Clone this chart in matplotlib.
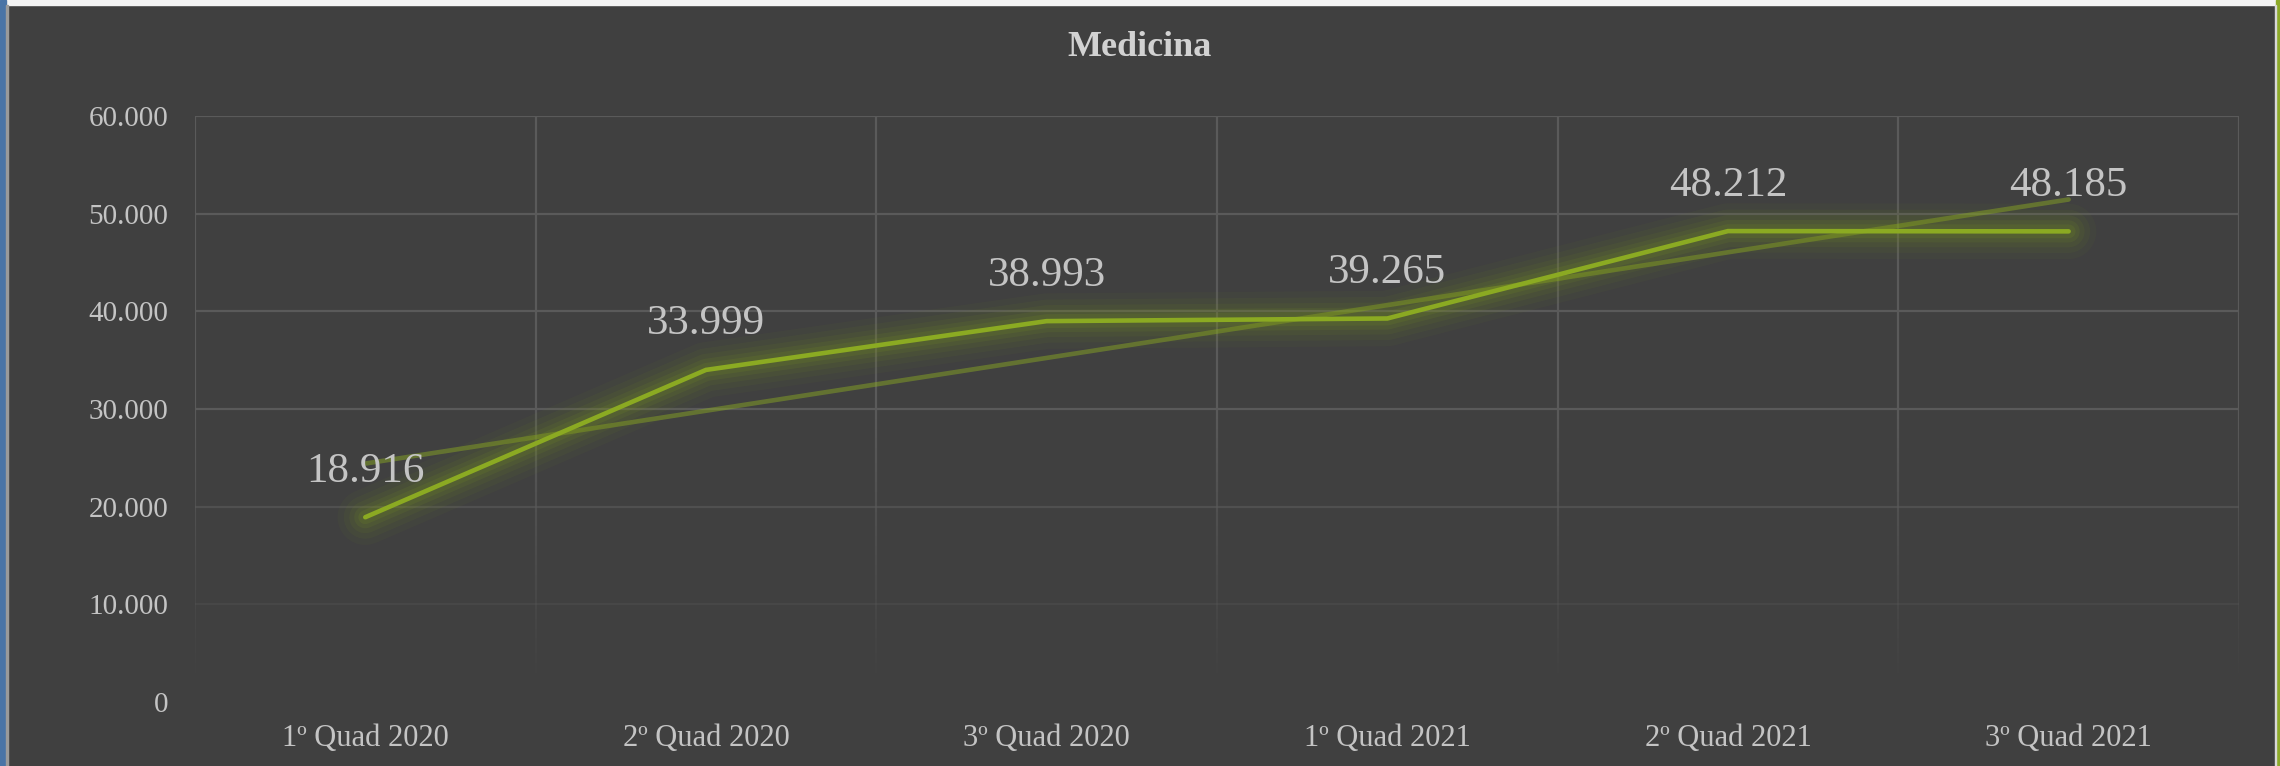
import numpy as np
import matplotlib
matplotlib.use("Agg")
import matplotlib.pyplot as plt
from matplotlib.patches import Rectangle
from matplotlib.ticker import FuncFormatter

categories = ["1º Quad 2020", "2º Quad 2020", "3º Quad 2020",
              "1º Quad 2021", "2º Quad 2021", "3º Quad 2021"]
values = [18916, 33999, 38993, 39265, 48212, 48185]
y_ticks = [0, 10000, 20000, 30000, 40000, 50000, 60000]
title = "Medicina"

BG = "#404040"
LINE = "#8BAA22"
GLOW = "#7A9420"
GRID = "#5A5A5A"
TXT = "#C4C4C4"
FONT = "Liberation Serif"

plt.rcParams["font.family"] = [FONT, "DejaVu Serif"]

fig = plt.figure(figsize=(22.8, 7.66), dpi=100, facecolor=BG)
ax = fig.add_axes([0.0855, 0.0836, 0.982 - 0.0855, 0.8486 - 0.0836])
ax.set_facecolor(BG)

x = np.arange(len(categories))
ax.set_xlim(-0.5, len(categories) - 0.5)
ax.set_ylim(0, 60000)

def fade(v):
    return float(np.clip((v - 2000) / 28000, 0, 1))

for yt in y_ticks[1:]:
    a = fade(yt)
    if a > 0:
        ax.axhline(yt, color=GRID, lw=1.6, alpha=a, zorder=1)
ys = np.linspace(0, 60000, 121)
for xb in np.arange(-0.5, len(categories), 1.0):
    for i in range(len(ys) - 1):
        ymid = 0.5 * (ys[i] + ys[i + 1])
        a = fade(ymid)
        if a > 0:
            ax.plot([xb, xb], [ys[i], ys[i + 1]], color=GRID, lw=1.6,
                    alpha=a, solid_capstyle="butt", zorder=1)

for s in ax.spines.values():
    s.set_visible(False)

# trendline (linear fit)
coef = np.polyfit(x, values, 1)
trend = np.polyval(coef, x)
ax.plot(x, trend, color=LINE, lw=3.3, alpha=0.48, solid_capstyle="round", zorder=2)

# glow
for lw, a in [(40, 0.05), (31, 0.07), (23, 0.09), (16, 0.12), (10, 0.15)]:
    ax.plot(x, values, color=GLOW, lw=lw, alpha=a, solid_capstyle="round",
            solid_joinstyle="round", zorder=3)
ax.plot(x, values, color=LINE, lw=3.3, solid_capstyle="round",
        solid_joinstyle="miter", zorder=4)

for xi, v in zip(x, values):
    ax.annotate(f"{v:,}".replace(",", "."), (xi, v), xytext=(0, 33),
                textcoords="offset points", ha="center", va="center",
                fontsize=31, color=TXT, family=FONT, zorder=5)

ax.set_xticks(x)
ax.set_xticklabels(categories, fontsize=22, color=TXT, family=FONT)
ax.set_yticks(y_ticks)
ax.yaxis.set_major_formatter(FuncFormatter(lambda v, p: f"{int(v):,}".replace(",", ".")))
ax.tick_params(axis="y", length=0, pad=19, labelsize=21, labelcolor=TXT)
ax.tick_params(axis="x", length=0, pad=16, labelsize=22, labelcolor=TXT)

fig.text(0.5, 1 - 47 / 766, title, ha="center", va="center", fontsize=26,
         fontweight="bold", color="#D2D2D2", family=FONT)

# screenshot frame edges
W, H = 2280, 766
fig.patches.append(Rectangle((0, 1 - 5 / H), 1, 5 / H, transform=fig.transFigure,
                             color="#F4F4F4", zorder=10))
fig.patches.append(Rectangle((0, 0), 6 / W, 1, transform=fig.transFigure,
                             color="#4A74A6", zorder=11))
fig.patches.append(Rectangle((6 / W, 0), 1.5 / W, 1 - 5 / H, transform=fig.transFigure,
                             color="#9A9A9A", zorder=11))
fig.patches.append(Rectangle((1 - 4 / W, 0), 4 / W, 1, transform=fig.transFigure,
                             color="#8DAA2A", zorder=11))
fig.patches.append(Rectangle((1 - 5 / W, 0), 1.2 / W, 1 - 5 / H, transform=fig.transFigure,
                             color="#D8D8D8", zorder=11))

fig.savefig("out.png", dpi=100, facecolor=BG)
